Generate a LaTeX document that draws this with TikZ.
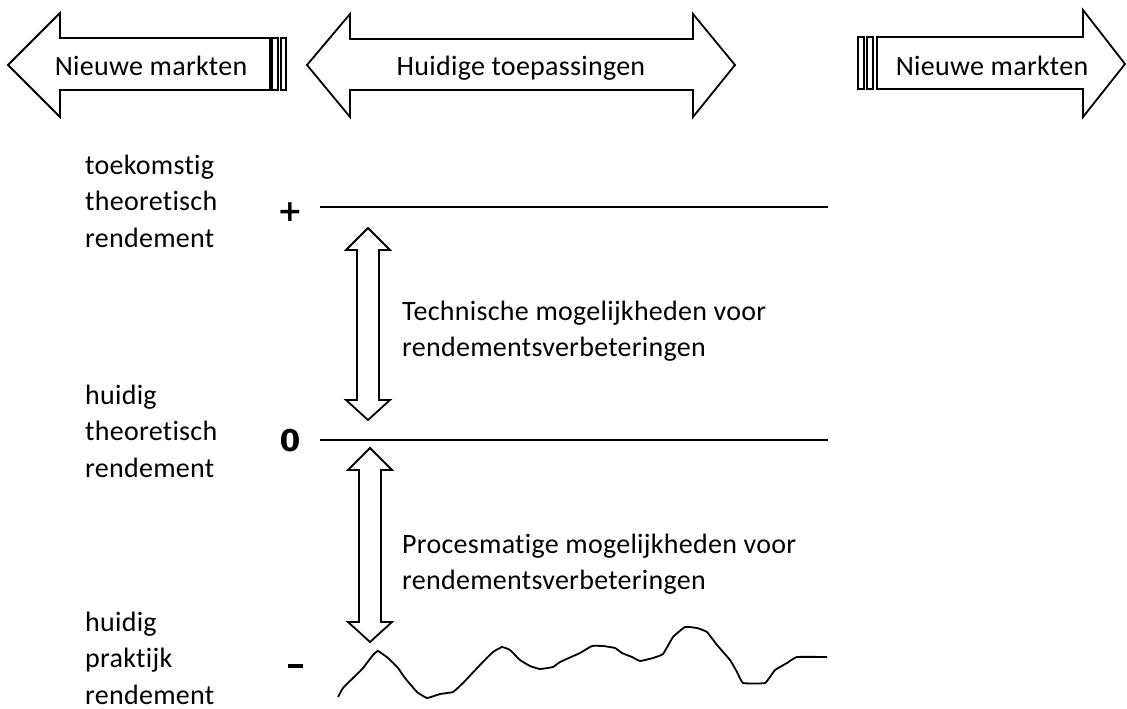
\documentclass[tikz,border=0pt]{standalone}
\usepackage{fontspec}
\setmainfont{Carlito}[LetterSpace=1.0,Ligatures=NoCommon]
\newfontfamily\symfont{DejaVu Sans}
\usetikzlibrary{positioning}
\tikzset{
  lbl/.style={font=\fontsize{28}{36.5}\selectfont, align=left, inner sep=0pt},
  sym/.style={font=\symfont\bfseries\fontsize{30}{30}\selectfont, inner sep=0pt},
  blk/.style={draw, line width=1.8pt, fill=white, line join=miter},
  lvl/.style={line width=1.8pt},
}
% vertical double arrow: x centre, top tip, bottom tip
\newcommand{\vdblarrow}[3]{%
  \draw[blk] (#1,#2) -- ({#1+22},{#2+22}) -- ({#1+11},{#2+22}) -- ({#1+11},{#3-20})
    -- ({#1+22},{#3-20}) -- (#1,#3) -- ({#1-22},{#3-20}) -- ({#1-11},{#3-20})
    -- ({#1-11},{#2+22}) -- ({#1-22},{#2+22}) -- cycle;}

\begin{document}
\begin{tikzpicture}[x=1pt,y=-1pt]
\useasboundingbox (0,0) rectangle (1127,709);
%
% markets
\draw[blk] (8,65) -- (60,13) -- (60,38) -- (270,38) -- (270,90) -- (60,90) -- (60,117) -- cycle;
\draw[blk] (272,38) rectangle (278,90);
\draw[blk] (281,38) rectangle (286,90);
\node[lbl, anchor=base] (newleft) at (151,75) {Nieuwe markten};
%
\draw[blk] (307,65) -- (350,14) -- (350,39) -- (693,39) -- (693,14) -- (735,65)
  -- (693,117) -- (693,90) -- (350,90) -- (350,117) -- cycle;
\node[lbl, anchor=base] (current) at (521,75) {Huidige toepassingen};
%
\draw[blk] (858,37) rectangle (864,89);
\draw[blk] (867,37) rectangle (873,89);
\draw[blk] (877,37) -- (1083,37) -- (1083,10) -- (1125,64) -- (1083,117) -- (1083,89) -- (877,89) -- cycle;
\node[lbl, anchor=base] (newright) at (992,75) {Nieuwe markten};
%
% levels
\node[lbl, anchor=west] (future) at (85,201) {toekomstig\\theoretisch\\rendement};
\node[lbl, anchor=west] (theory) at (85,431) {huidig\\theoretisch\\rendement};
\node[lbl, anchor=west] (practice) at (85,658) {huidig\\praktijk\\rendement};
\node[sym] (plus) at (290,212) {+};
\node[sym] (zero) at (290,441) {0};
\node[sym] (minus) at (295,666) {\rule{15pt}{4pt}};
%
\coordinate (plusL) at (320,207);
\coordinate (plusR) at (828,207);
\coordinate (zeroL) at (320,440);
\coordinate (zeroR) at (828,440);
\draw[lvl] (plusL) -- (plusR);
\draw[lvl] (zeroL) -- (zeroR);
\draw[lvl, line join=round] plot[smooth, tension=0.2] coordinates {
  (338,697) (343,688) (353,678) (363,668) (373,655) (378,651) (388,658) (398,668)
  (405,678) (417,692) (427,698) (440,694) (453,692) (463,683) (480,665) (493,652)
  (502,647) (510,650) (520,660) (530,666) (540,669) (553,667) (560,662) (580,653)
  (592,646) (603,646) (615,648) (622,653) (632,657) (640,661) (653,658) (663,654)
  (673,637) (685,627) (697,628) (707,632) (717,645) (730,660) (737,672) (743,683)
  (765,683) (775,670) (787,663) (797,657) (827,657)};
%
% improvement ranges
\vdblarrow{368}{228}{420}
\vdblarrow{370}{448}{642}
\node[lbl, anchor=west] (technical) at (402,331) {Technische mogelijkheden voor\\rendementsverbeteringen};
\node[lbl, anchor=west] (process) at (402,564) {Procesmatige mogelijkheden voor\\rendementsverbeteringen};
%
\end{tikzpicture}
\end{document}
